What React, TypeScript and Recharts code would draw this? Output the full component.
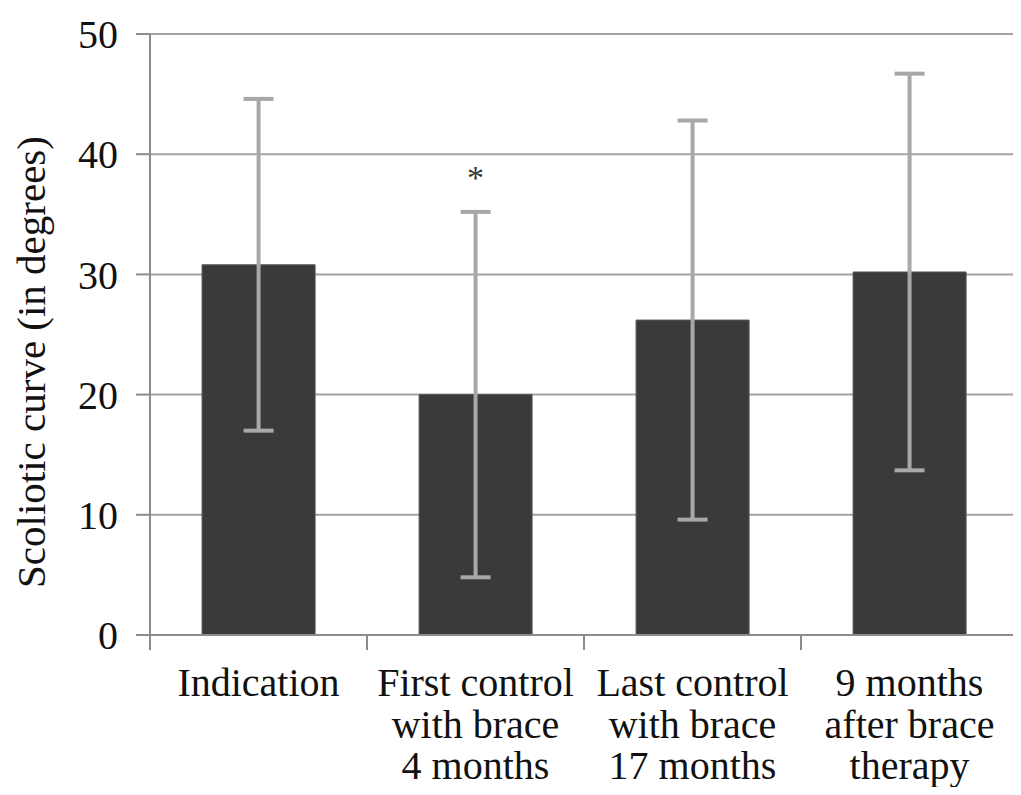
import { ComposedChart, Bar, ErrorBar, Scatter, XAxis, YAxis, CartesianGrid } from 'recharts';

// mean scoliotic curve per stage, with SD
const stages = [
    'Indication|',
    'First control|with brace|4 months',
    'Last control|with brace|17 months',
    '9 months|after brace|therapy',
];
const means = [30.8, 20.0, 26.2, 30.2];
const sd = [13.8, 15.2, 16.6, 16.5];
// significance marker (*) height
const stars = [null, 38.3, null, null];
const yTicks = [0, 10, 20, 30, 40, 50];

const data = stages.map((s, i) => ({
    stage: s,
    mean: means[i],
    sd: sd[i],
    star: stars[i],
}));

const FONT = "'Liberation Serif', 'DejaVu Serif', serif";
const W = 1021;
const H = 795;
const M = { top: 34, right: 3, left: 0, bottom: 0 };
const Y_W = 150;
const STEP = (W - M.left - M.right - Y_W) / stages.length;

const StageTick = ({ x, y, payload, index }: any) => {
    const lines = String(payload.value).split('|').filter(Boolean);
    return (
        <g>
            <line x1={x - STEP / 2} y1={y} x2={x - STEP / 2} y2={y + 15} stroke="#8c8c8c" strokeWidth={2} />
            {index === stages.length - 1 && (
                <line x1={x + STEP / 2} y1={y} x2={x + STEP / 2} y2={y + 15} stroke="#8c8c8c" strokeWidth={2} />
            )}
            <text x={x} y={y} textAnchor="middle" style={{ fontFamily: FONT }} fontSize={40} fill="#111">
                {lines.map((l, i) => (
                    <tspan key={i} x={x} y={y + 61 + i * 41.5}>{l}</tspan>
                ))}
            </text>
        </g>
    );
};

const Star = ({ cx, cy, payload }: any) => {
    if (payload == null || payload.star == null || cx == null || cy == null) return null;
    return (
        <text x={cx} y={cy} dy={14} textAnchor="middle" style={{ fontFamily: FONT }} fontSize={34} fill="#333">*</text>
    );
};

const YLabel = () => (
    <text
        x={31}
        y={362}
        transform="rotate(-90, 31, 362)"
        textAnchor="middle"
        dominantBaseline="central"
        style={{ fontFamily: FONT }}
        fontSize={41}
        fill="#111"
    >
        Scoliotic curve (in degrees)
    </text>
);

export default function App() {
    return (
        <div style={{ margin: -8, width: W, height: H, background: '#fff', fontFamily: FONT }}>
            <ComposedChart width={W} height={H} data={data} margin={M} barCategoryGap="24%" style={{ fontFamily: FONT }}>
                <CartesianGrid vertical={false} stroke="#a3a3a3" strokeWidth={2} />
                <XAxis
                    dataKey="stage"
                    height={160}
                    axisLine={{ stroke: '#8c8c8c', strokeWidth: 2 }}
                    tickLine={false}
                    tickSize={0}
                    tickMargin={0}
                    interval={0}
                    tick={<StageTick />}
                />
                <YAxis
                    width={Y_W}
                    domain={[0, 50]}
                    ticks={yTicks}
                    interval={0}
                    axisLine={{ stroke: '#8c8c8c', strokeWidth: 2 }}
                    tickLine={{ stroke: '#8c8c8c', strokeWidth: 2 }}
                    tickSize={14}
                    tickMargin={18}
                    tick={{ fontFamily: FONT, fontSize: 40, fill: '#111', style: { fontFamily: FONT } }}
                    label={<YLabel />}
                />
                <Bar dataKey="mean" fill="#3a3a3a" stroke="#555" strokeWidth={1} isAnimationActive={false}>
                    <ErrorBar dataKey="sd" width={15} stroke="#a8a8a8" strokeWidth={4} direction="y" />
                </Bar>
                <Scatter dataKey="star" shape={<Star />} isAnimationActive={false} />
            </ComposedChart>
        </div>
    );
}
